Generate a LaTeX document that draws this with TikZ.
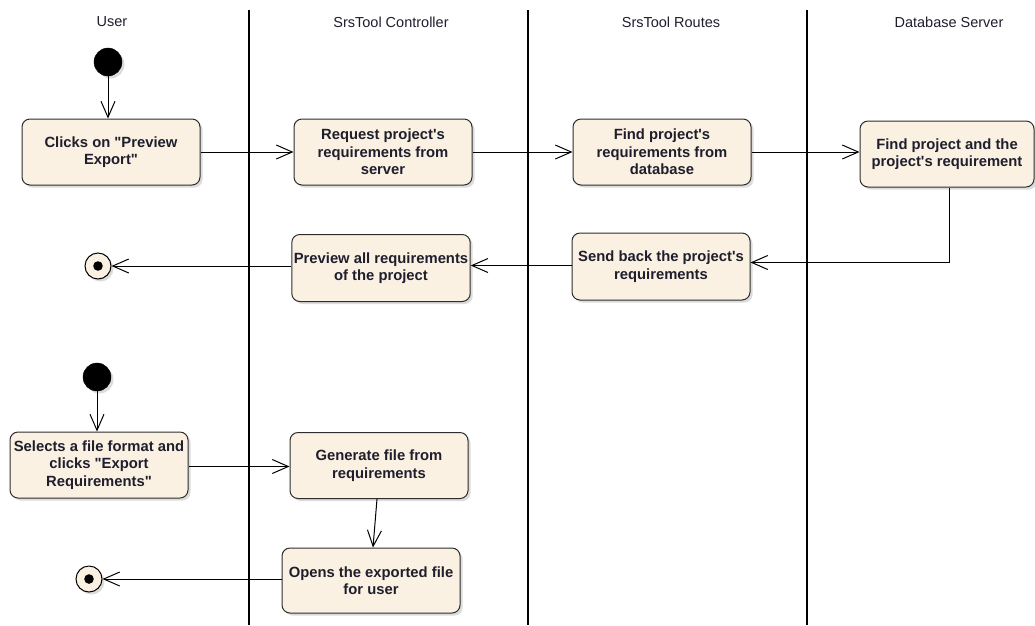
\documentclass[tikz,border=0pt]{standalone}
\usepackage{fontspec}
\setmainfont{Liberation Sans}
\usetikzlibrary{arrows.meta,shadows}
\definecolor{actfill}{RGB}{251,241,226}
\definecolor{inkline}{RGB}{45,45,45}
\definecolor{inktext}{RGB}{30,30,45}
\newcommand{\dq}{\textquotedbl}
\newcommand{\sq}{\textquotesingle}
\begin{document}
\begin{tikzpicture}[x=1pt,y=-1pt,
  lane/.style={line width=1.1pt, black},
  lanehead/.style={font=\fontsize{14.5}{16}\selectfont, text=inktext},
  softshadow/.style={drop shadow={shadow xshift=2.5pt, shadow yshift=-2.5pt, opacity=0.28}},
  activity/.style={draw=inkline, line width=1pt, fill=actfill, rounded corners=8pt,
    align=center, text=inktext, inner sep=2pt,
    font=\bfseries\fontsize{14.8}{17.5}\selectfont,
    minimum width=178pt, minimum height=66pt, softshadow},
  initial/.style={circle, fill=black, draw=black, minimum size=28pt, inner sep=0pt, softshadow},
  final/.style={circle, fill=actfill, draw=black, line width=1pt, minimum size=26pt, inner sep=0pt, softshadow,
    path picture={\fill[black] (path picture bounding box.center) circle[radius=4.8pt];}},
  flow/.style={line width=1pt, black, -{Straight Barb[length=16pt,width=14pt,line width=1pt]}}
]
\useasboundingbox (0,0) rectangle (1035,625);

% swimlane separators
\draw[lane] (249,10) -- (249,625);
\draw[lane] (528,10) -- (528,625);
\draw[lane] (807,10) -- (807,625);

% swimlane titles
\node[lanehead] (hUser) at (112,22) {User};
\node[lanehead] (hCtrl) at (391,22) {SrsTool Controller};
\node[lanehead] (hRoutes) at (671,22) {SrsTool Routes};
\node[lanehead] (hDb) at (949,22) {Database Server};

% preview flow
\node[initial] (s1) at (108,62) {};
\node[activity] (A1) at (111,152) {Clicks on \dq Preview\\Export\dq};
\node[activity] (A2) at (383,152) {Request project\sq s\\requirements from\\server};
\node[activity] (A3) at (662,152) {Find project\sq s\\requirements from\\database};
\node[activity, minimum width=174pt] (A4) at (947,154) {Find project and the\\project\sq s requirement};
\node[activity, minimum height=67pt] (A5) at (661,266.5) {Send back the project\sq s\\requirements};
\node[activity, minimum height=67pt] (A6) at (381,268) {Preview all requirements\\of the project};
\node[final] (e1) at (98,266) {};

% export flow
\node[initial] (s2) at (97,377) {};
\node[activity] (B1) at (99,465) {Selects a file format and\\clicks \dq Export\\Requirements\dq};
\node[activity] (B2) at (379,465.5) {Generate file from\\requirements};
\node[activity, minimum height=65pt] (B3) at (371,580.5) {Opens the exported file\\for user};
\node[final] (e2) at (89,579) {};

% control flows
\draw[flow] (s1.south) -- (s1.south |- A1.north);
\draw[flow] (A1.east) -- (A2.west);
\draw[flow] (A2.east) -- (A2.east -| A3.west);
\draw[flow] (A3.east) -- (A3.east -| A4.west);
\draw[flow] ([xshift=2pt]A4.south) |- ([yshift=4pt]A5.east);
\draw[flow] ([yshift=1pt]A5.west) -- ([yshift=1pt]A5.west -| A6.east);
\draw[flow] (A6.west |- e1) -- (e1.east);

\draw[flow] (s2.south) -- (s2.south |- B1.north);
\draw[flow] ([yshift=-1.5pt]B1.east) -- ([yshift=-1.5pt]B1.east -| B2.west);
\draw[flow] ([xshift=-2pt]B2.south) -- ([xshift=2pt]B3.north);
\draw[flow] (B3.west |- e2) -- (e2.east);
\end{tikzpicture}
\end{document}
